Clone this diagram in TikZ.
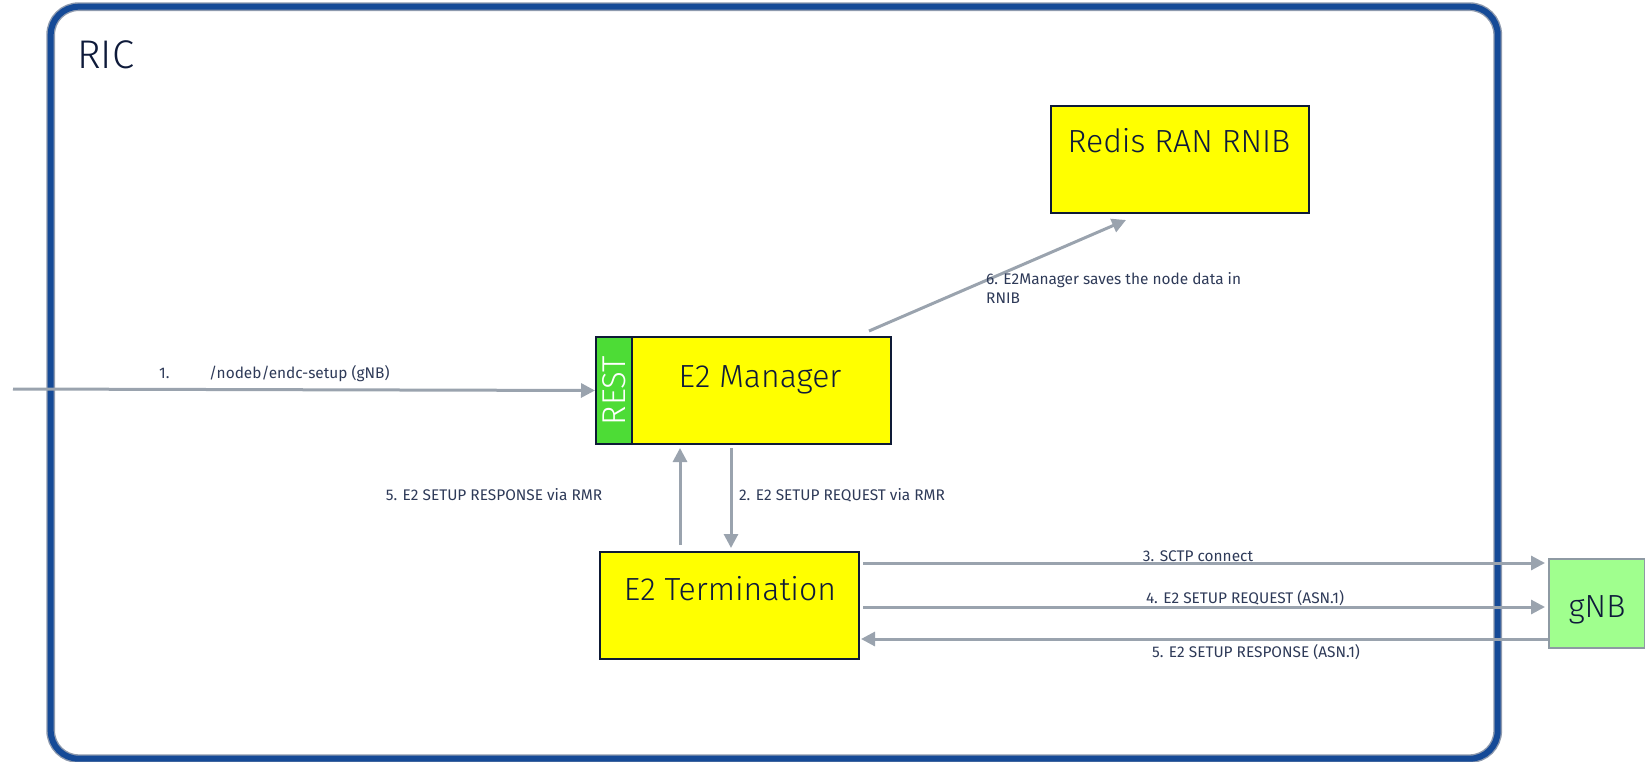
\documentclass[tikz,border=0pt]{standalone}
\usepackage{fontspec}
\setmainfont{Fira Sans Light}
\newfontfamily\labelfont{Fira Sans}
\usetikzlibrary{arrows.meta}

\definecolor{ricblue}{HTML}{154A97}
\definecolor{ricedge}{HTML}{8E9AAE}
\definecolor{arrowgrey}{HTML}{9AA3AE}
\definecolor{boxyellow}{HTML}{FFFF00}
\definecolor{boxline}{HTML}{0E1A36}
\definecolor{restgreen}{HTML}{4DDC36}
\definecolor{gnbgreen}{HTML}{A0FF8E}
\definecolor{gnbline}{HTML}{8E9AA3}
\definecolor{inktext}{HTML}{0E1A3A}
\definecolor{smalltext}{HTML}{2E3A58}

\begin{document}
\begin{tikzpicture}[x=1pt,y=-1pt,
  frame/.style={draw=ricedge, double=ricblue, double distance=6pt, line width=1.4pt,
    rounded corners=28pt, inner sep=0pt, anchor=north west},
  comp/.style={draw=boxline, line width=2pt, fill=boxyellow, inner sep=0pt, anchor=north west},
  restbox/.style={draw=boxline, line width=2pt, fill=restgreen, inner sep=0pt, anchor=north west},
  gnbbox/.style={draw=gnbline, line width=2pt, fill=gnbgreen, inner sep=0pt, anchor=north west},
  bigtext/.style={text=inktext, inner sep=0pt, anchor=base, font=\fontsize{32}{38}\selectfont},
  smalltxt/.style={text=smalltext, inner sep=0pt, anchor=base, font=\labelfont\fontsize{15.4}{19}\selectfont},
  arr/.style={draw=arrowgrey, line width=3pt, -{Triangle[length=14pt,width=14pt]}}]

\useasboundingbox (0,0) rectangle (1645,762);

% RIC platform frame
\node[frame, minimum width=1447pt, minimum height=752pt] (ric) at (50,6) {};
\node[text=inktext, inner sep=0pt, anchor=base west, font=\fontsize{40}{48}\selectfont] (riclabel) at (77,69) {RIC};

% components
\node[comp, minimum width=258pt, minimum height=107pt] (redis) at (1050,105) {};
\node[bigtext] (redislabel) at (1179,153) {Redis RAN RNIB};

\node[comp, minimum width=259pt, minimum height=107pt] (em) at (631,336) {};
\node[restbox, minimum width=36pt, minimum height=107pt] (rest) at (595,336) {};
\node[bigtext] (emlabel) at (760,387) {E2 Manager};
\node[text=white, inner sep=0pt, rotate=90, font=\fontsize{33}{38}\selectfont] (restlabel) at (rest.center) {REST};

\node[comp, minimum width=259pt, minimum height=107pt] (term) at (599,551) {};
\node[bigtext] (termlabel) at (730,600) {E2 Termination};

\node[gnbbox, minimum width=96pt, minimum height=89pt] (gnb) at (1548,558) {};
\node[bigtext] (gnblabel) at (1597,617) {gNB};

% connector guides
\coordinate (src) at (13,389);
\coordinate (upx) at (680,0);
\coordinate (dnx) at (731,0);
\coordinate (r3) at (0,563);
\coordinate (r4) at (0,607);
\coordinate (r5) at (0,639);

% messages
\draw[arr] (src) -- (rest.west);
\node[smalltxt, anchor=base west] (l1a) at (159,378) {1.};
\node[smalltxt, anchor=base west] (l1b) at (209,378) {/nodeb/endc-setup (gNB)};

\draw[arr, shorten <=3pt, shorten >=3pt] (em.south -| dnx) -- (term.north -| dnx);
\node[smalltxt] (l2) at (842,500) {2. E2 SETUP REQUEST via RMR};

\draw[arr, shorten <=3pt, shorten >=3pt] (term.east |- r3) -- (gnb.west |- r3);
\node[smalltxt] (l3) at (1198,561) {3. SCTP connect};

\draw[arr, shorten <=3pt, shorten >=3pt] (term.east |- r4) -- (gnb.west |- r4);
\node[smalltxt] (l4) at (1245,603) {4. E2 SETUP REQUEST (ASN.1)};

\draw[arr, shorten >=1pt] (gnb.west |- r5) -- (term.east |- r5);
\node[smalltxt] (l5a) at (1256,657) {5. E2 SETUP RESPONSE (ASN.1)};

\draw[arr, shorten <=6pt, shorten >=3pt] (term.north -| upx) -- (em.south -| upx);
\node[smalltxt] (l5b) at (494,500) {5. E2 SETUP RESPONSE via RMR};

\draw[arr] ([shift={(-23,-5)}]em.north east) -- ([shift={(-54,6)}]redis.south);
\node[smalltxt, align=left, anchor=base west] (l6) at (986,303) {6. E2Manager saves the node data in\\RNIB};

\end{tikzpicture}
\end{document}
